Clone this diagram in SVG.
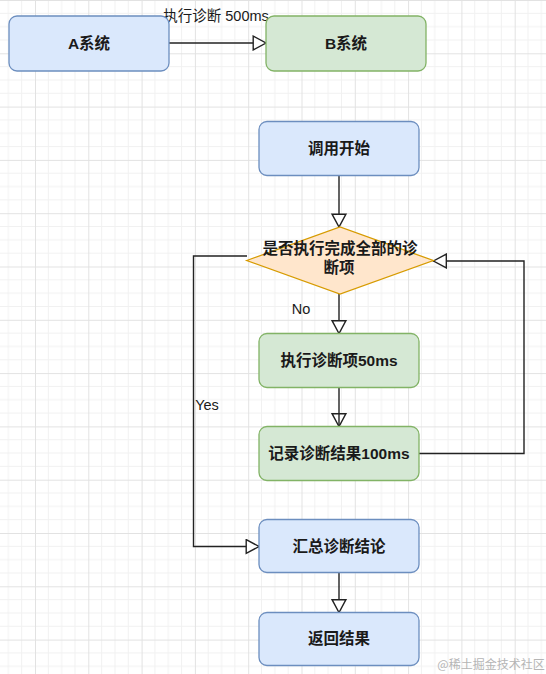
<svg xmlns="http://www.w3.org/2000/svg" width="546" height="674" viewBox="0 0 546 674">
<style>
.t{font-family:"Liberation Sans","Noto Sans CJK SC",sans-serif;font-size:15.5px;fill:#1a1a1a;text-anchor:middle;dominant-baseline:central;font-weight:600}
.l{font-family:"Liberation Sans","Noto Sans CJK SC",sans-serif;font-size:14.5px;fill:#1a1a1a;text-anchor:middle;dominant-baseline:central}
.blue{fill:#dae8fc;stroke:#6c8ebf;stroke-width:1.3}
.green{fill:#d5e8d4;stroke:#82b366;stroke-width:1.3}
.e{fill:none;stroke:#222;stroke-width:1.4}
</style>
<defs>
<pattern id="grid" width="53.3" height="53.3" patternUnits="userSpaceOnUse" x="35" y="0">
<path d="M13.33 0V53.3M26.66 0V53.3M40 0V53.3M0 13.33H53.3M0 26.66H53.3M0 40H53.3" stroke="#f1f1f1" stroke-width="1" fill="none"/>
<path d="M0.5 0V53.3M0 0.5H53.3" stroke="#e2e2e2" stroke-width="1" fill="none"/>
</pattern>
<marker id="arr" markerUnits="userSpaceOnUse" markerWidth="16" markerHeight="16" viewBox="-1 -1 15 15" refX="12" refY="6.5" orient="auto">
<path d="M0,0 L12,6.5 L0,13 Z" fill="#fff" stroke="#222" stroke-width="1.3"/>
</marker>
</defs>
<rect width="546" height="674" fill="#fff"/>
<rect width="546" height="674" fill="url(#grid)"/>

<g id="connectors">
<path class="e" d="M169,43 H266" marker-end="url(#arr)"/>
<text class="l" x="216" y="16">执行诊断 500ms</text>
<path class="e" d="M339,175.5 V227" marker-end="url(#arr)"/>
<path class="e" d="M339,294 V333.5" marker-end="url(#arr)"/>
<text class="l" x="301" y="309">No</text>
<path class="e" d="M339,387.5 V426.5" marker-end="url(#arr)"/>
<path class="e" d="M339,414 V426"/>
<path class="e" d="M419,453.5 H524 V261 H433.5" marker-end="url(#arr)"/>
<path class="e" d="M247,256 H193.5 V546.5 H259" marker-end="url(#arr)"/>
<text class="l" x="207" y="404.5">Yes</text>
<path class="e" d="M339,573 V612.5" marker-end="url(#arr)"/>
</g>

<g id="nodeA">
<rect class="blue" x="9" y="16" width="160" height="55" rx="8"/>
<text class="t" x="89" y="43">A系统</text>
</g>
<g id="nodeB">
<rect class="green" x="266" y="16" width="160" height="55" rx="8"/>
<text class="t" x="346" y="43">B系统</text>
</g>
<g id="start">
<rect class="blue" x="259" y="121.5" width="160" height="54" rx="8"/>
<text class="t" x="339" y="148.5">调用开始</text>
</g>
<g id="decision">
<polygon points="246.7,260.5 340,227 433.3,260.5 340,294" fill="#ffe6cc" stroke="#d79b00" stroke-width="1.3"/>
<text class="t" x="340" y="248">是否执行完成全部的诊</text>
<text class="t" x="339" y="267">断项</text>
</g>
<g id="exec">
<rect class="green" x="259" y="333.5" width="160" height="54" rx="8"/>
<text class="t" x="339" y="360.5">执行诊断项50ms</text>
</g>
<g id="record">
<rect class="green" x="259" y="426.5" width="160" height="54" rx="8"/>
<text class="t" x="339" y="453.5">记录诊断结果100ms</text>
</g>
<g id="summary">
<rect class="blue" x="259" y="519.5" width="160" height="53" rx="8"/>
<text class="t" x="339" y="546">汇总诊断结论</text>
</g>
<g id="return">
<rect class="blue" x="259" y="612.5" width="160" height="53" rx="8"/>
<text class="t" x="339" y="638.5">返回结果</text>
</g>
<text x="491" y="663" font-family="Noto Sans CJK SC, sans-serif" font-size="12" fill="#b5b5b5" text-anchor="middle" dominant-baseline="central">@稀土掘金技术社区</text>
</svg>
